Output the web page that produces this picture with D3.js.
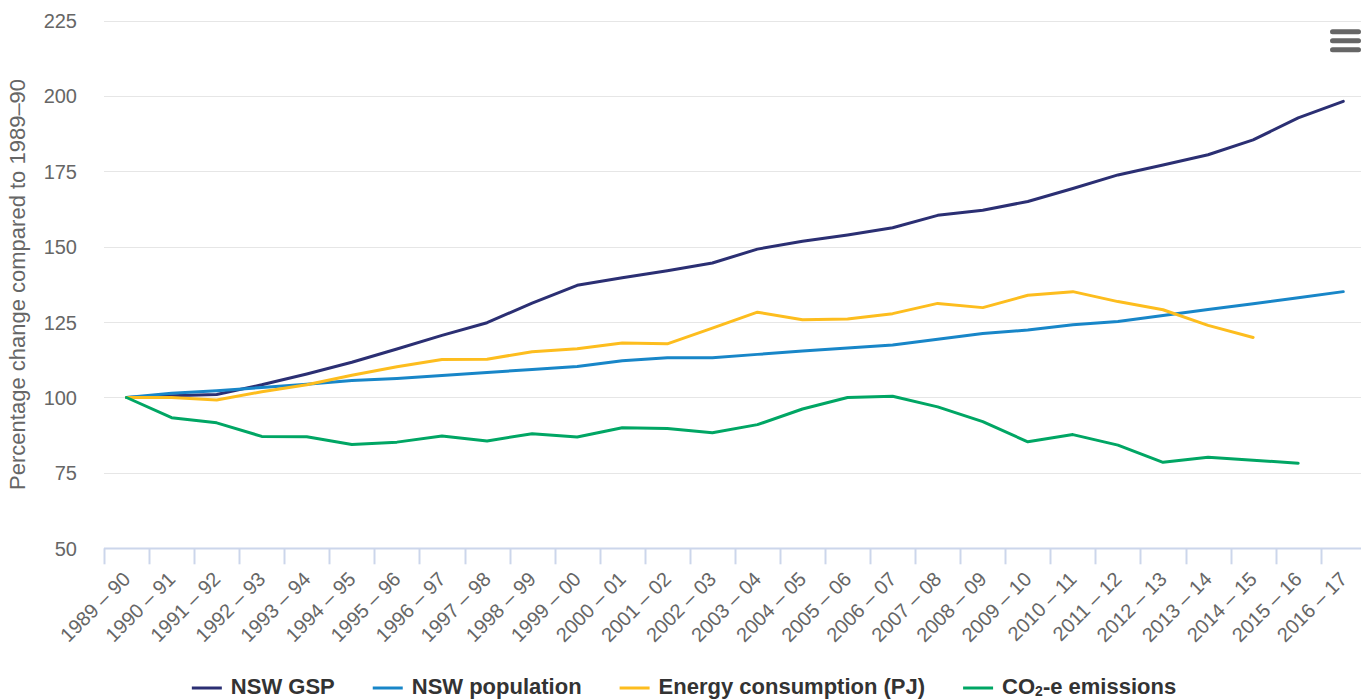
<!DOCTYPE html>
<meta charset="utf-8">
<script src="https://cdn.jsdelivr.net/npm/d3@7"></script>
<style>
  body {
      margin: 0;
      padding: 0;
      background: #fff;
      font-family: 'Liberation Sans', Arial, Helvetica, sans-serif;
  }
  .grid line {
      stroke: #e6e6e6;
      stroke-width: 1;
      shape-rendering: crispEdges;
  }
  .tick-label {
      fill: #666;
      font-size: 20px;
  }
  .legend text {
      fill: #333;
      font-size: 22px;
      font-weight: bold;
  }
</style>
<body>
<div id="chart"></div>
<script>
var categories = ["1989 – 90", "1990 – 91", "1991 – 92", "1992 – 93", "1993 – 94", "1994 – 95",
    "1995 – 96", "1996 – 97", "1997 – 98", "1998 – 99", "1999 – 00", "2000 – 01", "2001 – 02",
    "2002 – 03", "2003 – 04", "2004 – 05", "2005 – 06", "2006 – 07", "2007 – 08", "2008 – 09",
    "2009 – 10", "2010 – 11", "2011 – 12", "2012 – 13", "2013 – 14", "2014 – 15", "2015 – 16",
    "2016 – 17"];

var gsp = [100, 100.6, 101, 104.2, 107.8, 111.7, 116.1, 120.6, 124.8, 131.3, 137.2, 139.7, 142.0,
    144.6, 149.2, 151.8, 153.9, 156.3, 160.4, 162.1, 165.0, 169.3, 173.8, 177.1, 180.5, 185.4,
    192.7, 198.2];

var population = [100, 101.4, 102.2, 103.3, 104.4, 105.6, 106.3, 107.3, 108.3, 109.3, 110.3, 112.2,
    113.2, 113.2, 114.3, 115.4, 116.4, 117.4, 119.3, 121.2, 122.4, 124.1, 125.2, 127.2, 129.2,
    131.1, 133.1, 135.1];

var energy = [100, 100, 99.2, 101.9, 104.2, 107.4, 110.2, 112.6, 112.7, 115.2, 116.2, 118.1, 117.8,
    123.0, 128.3, 125.8, 126.0, 127.8, 131.2, 129.8, 133.9, 135.1, 131.8, 129.1, 123.9, 119.9,
    null, null];

var co2 = [100, 93.3, 91.6, 87.1, 87.0, 84.4, 85.2, 87.2, 85.6, 88.0, 86.9, 90.0, 89.7, 88.3, 91.0,
    96.2, 100.0, 100.4, 96.9, 92.0, 85.3, 87.7, 84.2, 78.5, 80.2, 79.2, 78.2, null];

var yTicks = [50, 75, 100, 125, 150, 175, 200, 225];

var seriesNames = ["NSW GSP", "NSW population", "Energy consumption (PJ)", "CO2-e emissions"];
var seriesColors = ["#2b2f73", "#1886c8", "#fdbd1e", "#00a664"];

var series = [gsp, population, energy, co2].map(function(vals, i) {
    return { name: seriesNames[i], color: seriesColors[i], values: vals };
});

var width = 1368,
    height = 700,
    plotLeft = 104,
    plotRight = 1361,
    plotTop = 20.5,
    plotBottom = 548.3;

var svg = d3.select("#chart").append("svg")
    .attr("width", width)
    .attr("height", height);

var x = d3.scaleBand()
    .domain(categories)
    .range([plotLeft, 1365.8]);

var y = d3.scaleLinear()
    .domain([50, 225])
    .range([plotBottom, plotTop]);

// horizontal grid
svg.append("g")
    .attr("class", "grid")
    .selectAll("line")
    .data(yTicks.filter(function(d) { return d > 50; }))
    .enter().append("line")
    .attr("x1", plotLeft)
    .attr("x2", plotRight)
    .attr("y1", function(d) { return Math.round(y(d)) + 0.5; })
    .attr("y2", function(d) { return Math.round(y(d)) + 0.5; });

// y labels
svg.append("g")
    .selectAll("text")
    .data(yTicks)
    .enter().append("text")
    .attr("class", "tick-label")
    .attr("text-anchor", "end")
    .attr("x", 77)
    .attr("y", function(d) { return y(d) + 7.5; })
    .text(function(d) { return d; });

// y title
svg.append("text")
    .attr("transform", "translate(25," + ((plotTop + plotBottom) / 2) + ") rotate(-90)")
    .attr("text-anchor", "middle")
    .style("fill", "#666")
    .style("font-size", "22px")
    .text("Percentage change compared to 1989–90");

// x axis line + ticks
var xAxis = svg.append("g");
xAxis.append("line")
    .attr("x1", plotLeft)
    .attr("x2", plotRight)
    .attr("y1", Math.round(plotBottom) + 0.5)
    .attr("y2", Math.round(plotBottom) + 0.5)
    .style("stroke", "#ccd6eb")
    .style("stroke-width", 2);

xAxis.selectAll(".xtick")
    .data(categories)
    .enter().append("line")
    .attr("class", "xtick")
    .attr("x1", function(d) { return Math.round(x(d)) + 0.5; })
    .attr("x2", function(d) { return Math.round(x(d)) + 0.5; })
    .attr("y1", plotBottom)
    .attr("y2", plotBottom + 16)
    .style("stroke", "#ccd6eb")
    .style("stroke-width", 2);

xAxis.selectAll(".xlabel")
    .data(categories)
    .enter().append("text")
    .attr("class", "tick-label")
    .attr("text-anchor", "end")
    .attr("transform", function(d) {
        return "translate(" + (x(d) + x.bandwidth() / 2 + 5) + "," + (plotBottom + 32) + ") rotate(-45)";
    })
    .text(function(d) { return d; });

// lines
var line = d3.line()
    .defined(function(d) { return d != null; })
    .x(function(d, i) { return x(categories[i]) + x.bandwidth() / 2; })
    .y(function(d) { return y(d); });

svg.append("g")
    .selectAll("path")
    .data(series)
    .enter().append("path")
    .attr("d", function(d) { return line(d.values); })
    .style("fill", "none")
    .style("stroke", function(d) { return d.color; })
    .style("stroke-width", 3)
    .style("stroke-linejoin", "round")
    .style("stroke-linecap", "round");

// legend
var legend = svg.append("g").attr("class", "legend");
var items = legend.selectAll("g")
    .data(series)
    .enter().append("g");

items.append("line")
    .attr("x1", 0)
    .attr("x2", 30)
    .attr("y1", 688)
    .attr("y2", 688)
    .style("stroke", function(d) { return d.color; })
    .style("stroke-width", 3);

items.append("text")
    .attr("x", 39)
    .attr("y", 694)
    .each(function(d) {
        var t = d3.select(this);
        if (d.name.indexOf("CO2") === 0) {
            t.append("tspan").text("CO");
            t.append("tspan").text("2").attr("dy", 2).style("font-size", "14px");
            t.append("tspan").text("-e emissions").attr("dy", -2);
        } else {
            t.text(d.name);
        }
    });

var offsets = [], pos = 0;
items.each(function() {
    offsets.push(pos);
    pos += 39 + this.querySelector("text").getComputedTextLength() + 38;
});
var total = pos - 38;
var startX = width / 2 - total / 2;
items.attr("transform", function(d, i) { return "translate(" + (startX + offsets[i]) + ",0)"; });

// menu icon
svg.append("g")
    .selectAll("rect")
    .data([29.3, 38.3, 47.3])
    .enter().append("rect")
    .attr("x", 1330)
    .attr("y", function(d) { return d; })
    .attr("width", 31)
    .attr("height", 5)
    .attr("rx", 2.5)
    .style("fill", "#666");
</script>
</body>
